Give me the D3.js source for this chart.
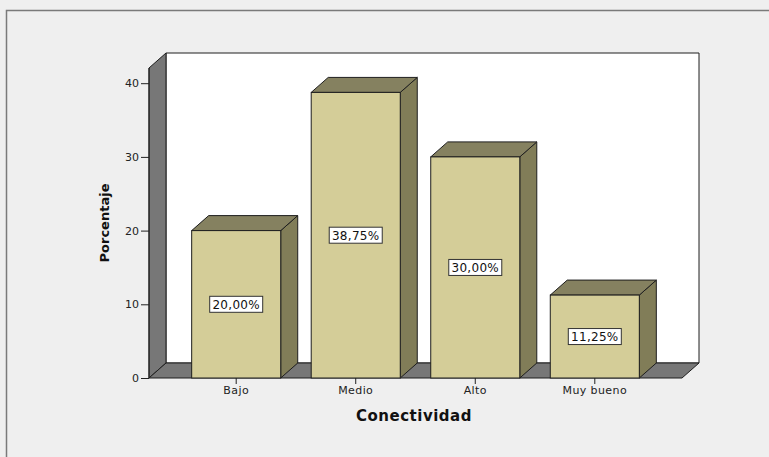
<!DOCTYPE html>
<html>
<head>
<meta charset="utf-8">
<script src="https://cdn.jsdelivr.net/npm/d3@7/dist/d3.min.js"></script>
<style>
  html, body { margin: 0; padding: 0; background: #efefef; }
  svg { display: block; }
</style>
</head>
<body>
<svg id="chart" width="769" height="457"></svg>
<script>
// Conectividad — porcentaje por categoría
const categories = ["Bajo", "Medio", "Alto", "Muy bueno"];
const percentages = [20.00, 38.75, 30.00, 11.25];
const yTicks = [0, 10, 20, 30, 40];
const xTitle = "Conectividad";
const yTitle = "Porcentaje";

const FONT = "'DejaVu Sans', Verdana, sans-serif";
const svg = d3.select("#chart");
const W = 769, H = 457;

// outer frame
svg.append("rect").attr("x", 6.5).attr("y", 10.5).attr("width", W + 10).attr("height", H + 10)
  .attr("fill", "#efefef").attr("stroke", "#7a7a7a").attr("stroke-width", 1.5);

// 3D depth offset
const dx = 17, dy = -15;
const x0 = 149, x1 = 682;
const y = d3.scaleLinear().domain([0, 40]).range([378, 83.2]);
const yTop = 68;   // front top edge of the side wall
const x = d3.scaleBand().domain(categories).range([x0, x1]).paddingInner(0.255).paddingOuter(0.357);

const stroke = "#1e1e1e";
const pts = a => a.map(p => p.join(",")).join(" ");

// back wall
svg.append("polygon")
  .attr("points", pts([[x0 + dx, yTop + dy], [x1 + dx, yTop + dy], [x1 + dx, y(0) + dy], [x0 + dx, y(0) + dy]]))
  .attr("fill", "#ffffff").attr("stroke", stroke).attr("stroke-width", 1);
// left wall
svg.append("polygon")
  .attr("points", pts([[x0, y(0)], [x0, yTop], [x0 + dx, yTop + dy], [x0 + dx, y(0) + dy]]))
  .attr("fill", "#777777").attr("stroke", stroke).attr("stroke-width", 1);
// floor
svg.append("polygon")
  .attr("points", pts([[x0, y(0)], [x1, y(0)], [x1 + dx, y(0) + dy], [x0 + dx, y(0) + dy]]))
  .attr("fill", "#777777").attr("stroke", stroke).attr("stroke-width", 1);

// y axis
const yAxis = d3.axisLeft(y).tickValues(yTicks).tickSize(8).tickSizeOuter(0).tickPadding(2);
const gy = svg.append("g").attr("transform", `translate(${x0},0)`).call(yAxis);
gy.select(".domain").remove();
gy.selectAll(".tick line").attr("stroke", "#222");
gy.selectAll(".tick text").attr("font-family", FONT)
  .attr("font-size", 11).attr("fill", "#222");
svg.append("line").attr("x1", x0).attr("x2", x0).attr("y1", y(0)).attr("y2", yTop)
  .attr("stroke", stroke);

// bars
const bars = svg.append("g").selectAll("g").data(categories).join("g");
bars.each(function (c, i) {
  const g = d3.select(this);
  const v = percentages[i];
  const L = x(c), R = x(c) + x.bandwidth(), T = y(v), B = y(0);
  // side
  g.append("polygon").attr("points", pts([[R, B], [R, T], [R + dx, T + dy], [R + dx, B + dy]]))
    .attr("fill", "#817d58").attr("stroke", stroke).attr("stroke-width", 1);
  // top
  g.append("polygon").attr("points", pts([[L, T], [R, T], [R + dx, T + dy], [L + dx, T + dy]]))
    .attr("fill", "#858160").attr("stroke", stroke).attr("stroke-width", 1);
  // front
  g.append("rect").attr("x", L).attr("y", T).attr("width", R - L).attr("height", B - T)
    .attr("fill", "#d4cd98").attr("stroke", stroke).attr("stroke-width", 1);
  // value label
  const cx = L + x.bandwidth() / 2, cy = y(v / 2);
  const label = d3.format(".2f")(v).replace(".", ",") + "%";
  g.append("rect").attr("x", cx - 26.5).attr("y", cy - 8).attr("width", 53).attr("height", 16)
    .attr("fill", "#fff").attr("stroke", "#333").attr("stroke-width", 1);
  g.append("text").attr("x", cx).attr("y", cy + 4.5).attr("text-anchor", "middle")
    .attr("font-family", FONT).attr("font-size", 12).attr("letter-spacing", 0.3)
    .attr("fill", "#111").text(label);
});

// x axis
const gx = svg.append("g").attr("transform", `translate(0,${y(0)})`)
  .call(d3.axisBottom(x).tickSize(6).tickSizeOuter(0).tickPadding(2));
gx.select(".domain").remove();
gx.selectAll(".tick line").attr("stroke", "#222");
gx.selectAll(".tick text").attr("font-family", FONT)
  .attr("font-size", 11).attr("letter-spacing", 0.4).attr("fill", "#222");

// titles
svg.append("text").attr("x", 414).attr("y", 421).attr("text-anchor", "middle")
  .attr("font-family", FONT).attr("font-weight", "bold")
  .attr("font-size", 15).attr("letter-spacing", 0.5).attr("fill", "#111").text(xTitle);
svg.append("text").attr("transform", "translate(109,223) rotate(-90)").attr("text-anchor", "middle")
  .attr("font-family", FONT).attr("font-weight", "bold")
  .attr("font-size", 13).attr("fill", "#111").text(yTitle);
</script>
</body>
</html>
